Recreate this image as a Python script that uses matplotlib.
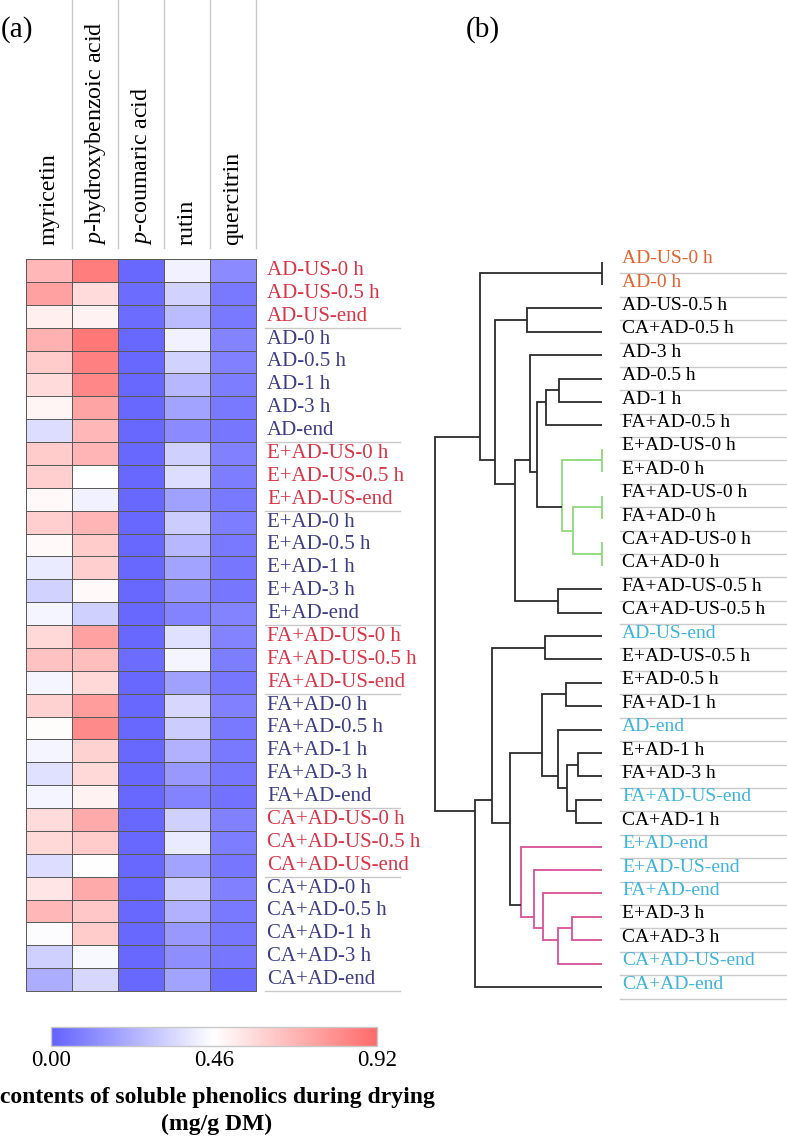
"""Heatmap of soluble phenolics (a) with a clustering dendrogram of the samples (b)."""

import matplotlib
matplotlib.use("Agg")
import matplotlib.pyplot as plt
import numpy as np
from matplotlib.colors import LinearSegmentedColormap

plt.rcParams["font.family"] = ["Liberation Serif", "DejaVu Serif"]
plt.rcParams["mathtext.fontset"] = "custom"
plt.rcParams["mathtext.rm"] = "Liberation Serif"
plt.rcParams["mathtext.it"] = "Liberation Serif:italic"

# ---- data -------------------------------------------------------------
COMPOUNDS = ["myricetin", "$p$-hydroxybenzoic acid", "$p$-coumaric acid", "rutin", "quercitrin"]

SAMPLES = [
    "AD-US-0 h", "AD-US-0.5 h", "AD-US-end",
    "AD-0 h", "AD-0.5 h", "AD-1 h", "AD-3 h", "AD-end",
    "E+AD-US-0 h", "E+AD-US-0.5 h", "E+AD-US-end",
    "E+AD-0 h", "E+AD-0.5 h", "E+AD-1 h", "E+AD-3 h", "E+AD-end",
    "FA+AD-US-0 h", "FA+AD-US-0.5 h", "FA+AD-US-end",
    "FA+AD-0 h", "FA+AD-0.5 h", "FA+AD-1 h", "FA+AD-3 h", "FA+AD-end",
    "CA+AD-US-0 h", "CA+AD-US-0.5 h", "CA+AD-US-end",
    "CA+AD-0 h", "CA+AD-0.5 h", "CA+AD-1 h", "CA+AD-3 h", "CA+AD-end",
]

# mg/g DM, one list per compound (rows follow SAMPLES)
MYRICETIN = [0.68, 0.75, 0.51, 0.70, 0.62, 0.57, 0.49, 0.36,
             0.62, 0.61, 0.48, 0.61, 0.48, 0.40, 0.33, 0.43,
             0.58, 0.65, 0.43, 0.60, 0.47, 0.43, 0.37, 0.43,
             0.57, 0.58, 0.36, 0.54, 0.68, 0.45, 0.32, 0.22]
HYDROXYBENZOIC = [0.86, 0.57, 0.50, 0.88, 0.85, 0.83, 0.74, 0.68,
                  0.69, 0.46, 0.42, 0.69, 0.62, 0.61, 0.48, 0.32,
                  0.75, 0.66, 0.58, 0.76, 0.82, 0.60, 0.58, 0.50,
                  0.72, 0.62, 0.46, 0.72, 0.63, 0.62, 0.44, 0.34]
COUMARIC = [0.02, 0.03, 0.03, 0.02, 0.02, 0.02, 0.02, 0.02,
            0.02, 0.02, 0.02, 0.02, 0.02, 0.02, 0.02, 0.02,
            0.02, 0.03, 0.02, 0.02, 0.02, 0.02, 0.02, 0.02,
            0.02, 0.02, 0.02, 0.02, 0.02, 0.02, 0.02, 0.02]
RUTIN = [0.42, 0.33, 0.26, 0.42, 0.33, 0.25, 0.19, 0.12,
         0.32, 0.36, 0.18, 0.31, 0.25, 0.19, 0.15, 0.10,
         0.37, 0.43, 0.18, 0.34, 0.31, 0.23, 0.16, 0.10,
         0.32, 0.40, 0.19, 0.31, 0.23, 0.16, 0.13, 0.19]
QUERCITRIN = [0.12, 0.07, 0.07, 0.10, 0.09, 0.08, 0.07, 0.06,
              0.09, 0.08, 0.07, 0.08, 0.07, 0.06, 0.06, 0.10,
              0.10, 0.08, 0.06, 0.09, 0.07, 0.07, 0.06, 0.05,
              0.09, 0.08, 0.06, 0.09, 0.07, 0.06, 0.06, 0.03]

VMIN, VMID, VMAX = 0.00, 0.46, 0.92

# dendrogram leaf order (top to bottom)
LEAVES = [
    "AD-US-0 h", "AD-0 h", "AD-US-0.5 h", "CA+AD-0.5 h", "AD-3 h", "AD-0.5 h",
    "AD-1 h", "FA+AD-0.5 h", "E+AD-US-0 h", "E+AD-0 h", "FA+AD-US-0 h",
    "FA+AD-0 h", "CA+AD-US-0 h", "CA+AD-0 h", "FA+AD-US-0.5 h", "CA+AD-US-0.5 h",
    "AD-US-end", "E+AD-US-0.5 h", "E+AD-0.5 h", "FA+AD-1 h", "AD-end",
    "E+AD-1 h", "FA+AD-3 h", "FA+AD-US-end", "CA+AD-1 h", "E+AD-end",
    "E+AD-US-end", "FA+AD-end", "E+AD-3 h", "CA+AD-3 h", "CA+AD-US-end", "CA+AD-end",
]

# merges: (child a, child b, distance, cluster); new node ids start at len(LEAVES)
MERGES = [
    (0, 1, 0.000, "k"), (2, 3, 0.450, "k"), (5, 6, 0.256, "k"), (34, 7, 0.334, "k"),
    (8, 9, 0.000, "g"), (10, 11, 0.000, "g"), (12, 13, 0.000, "g"), (37, 38, 0.170, "g"),
    (36, 39, 0.240, "g"), (35, 40, 0.390, "k"), (4, 41, 0.430, "k"), (14, 15, 0.264, "k"),
    (42, 43, 0.520, "k"), (33, 44, 0.640, "k"), (32, 45, 0.730, "k"), (16, 17, 0.340, "k"),
    (18, 19, 0.216, "k"), (21, 22, 0.140, "k"), (23, 24, 0.156, "k"), (49, 50, 0.210, "k"),
    (20, 51, 0.260, "k"), (48, 52, 0.360, "k"), (28, 29, 0.176, "p"), (54, 30, 0.260, "p"),
    (27, 55, 0.350, "p"), (26, 56, 0.404, "p"), (25, 57, 0.484, "p"), (53, 58, 0.550, "k"),
    (47, 59, 0.660, "k"), (60, 31, 0.760, "k"), (46, 61, 1.000, "k"),
]

HIGHLIGHT = ["AD-US-0 h", "AD-0 h"]

# ---- style ------------------------------------------------------------
W, H = 787, 1138
BLUE, RED = "#6262ff", "#ff6a6a"
US_RED, NAVY = "#dc3446", "#3d3d8a"
ORANGE, CYAN = "#e8602c", "#3db4de"
TREE_COLORS = {"k": "#2b2b2b", "g": "#8fd97c", "p": "#d9509a"}
RULE = "#c9c9c9"


def px_rect(left, top, right, bottom):
    return [left / W, 1 - bottom / H, (right - left) / W, (bottom - top) / H]


def main():
    fig = plt.figure(figsize=(W / 100, H / 100), dpi=100)

    values = np.column_stack([MYRICETIN, HYDROXYBENZOIC, COUMARIC, RUTIN, QUERCITRIN])
    cmap = LinearSegmentedColormap.from_list("bwr_soft", [BLUE, "white", RED])

    # (a) heatmap
    ax = fig.add_axes(px_rect(26, 259, 256, 991))
    mesh = ax.pcolormesh(values, cmap=cmap, vmin=VMIN, vmax=VMAX,
                         edgecolors="#5a5a5a", linewidth=0.6)
    n_rows, n_cols = values.shape
    ax.set_xlim(0, n_cols)
    ax.set_ylim(n_rows, 0)
    ax.set_xticks([])
    ax.set_yticks([])
    for s in ax.spines.values():
        s.set_edgecolor("#5a5a5a")
        s.set_linewidth(0.7)

    for i, name in enumerate(SAMPLES):
        ax.text(n_cols + 0.24, i + 0.5, name, fontsize=15, va="center", ha="left",
                color=US_RED if "-US-" in name else NAVY)

    groups = [name.rsplit("-", 1)[0] for name in SAMPLES]
    for i in range(1, n_rows + 1):
        if i == n_rows or groups[i] != groups[i - 1]:
            ax.plot([n_cols + 0.2, n_cols + 3.13], [i, i], color=RULE, lw=1.0, clip_on=False)

    for j, name in enumerate(COMPOUNDS):
        ax.text(j + 0.5, -0.62, name, rotation=90, fontsize=17.3, ha="center", va="bottom")
        ax.plot([j + 1, j + 1], [-11.32, -0.48], color=RULE, lw=1.0, clip_on=False)

    fig.text(1 / W, 1 - 30 / H, "(a)", fontsize=21, va="center", ha="left")
    fig.text(466 / W, 1 - 30 / H, "(b)", fontsize=21, va="center", ha="left")

    # colour bar
    cax = fig.add_axes(px_rect(51, 1027, 377, 1046))
    cb = fig.colorbar(mesh, cax=cax, orientation="horizontal", ticks=[VMIN, VMID, VMAX])
    cb.ax.set_xticklabels([f"{v:.2f}" for v in (VMIN, VMID, VMAX)])
    cb.ax.tick_params(length=0, labelsize=16.5, pad=3)
    cb.outline.set_edgecolor("#c8c8c8")
    cb.outline.set_linewidth(1.0)
    fig.text(217 / W, 1 - 1097 / H, "contents of soluble phenolics during drying",
             fontsize=17, weight="bold", ha="center", va="center")
    fig.text(217 / W, 1 - 1124 / H, "(mg/g DM)", fontsize=17, weight="bold",
             ha="center", va="center")

    # (b) dendrogram
    tx = fig.add_axes(px_rect(420, 249.8, 787, 998.7))
    scale = 166.7
    tx.set_xlim(1 + (435 - 420) / scale, -(787 - 601.7) / scale)
    tx.set_ylim(len(LEAVES) - 0.5, -0.5)
    tx.axis("off")

    n_leaf = len(LEAVES)
    members = {i: [i] for i in range(n_leaf)}
    height = {i: 0.0 for i in range(n_leaf)}
    for k, (a, b, d, c) in enumerate(MERGES):
        node = n_leaf + k
        members[node] = members[a] + members[b]
        height[node] = d
        ya, yb = np.mean(members[a]), np.mean(members[b])
        col = TREE_COLORS[c]
        tx.plot([height[a], d, d, height[b]], [ya, ya, yb, yb], color=col, lw=1.3,
                solid_joinstyle="miter", solid_capstyle="butt")

    label_x = -(622 - 601.7) / scale
    for i, name in enumerate(LEAVES):
        if name in HIGHLIGHT:
            col = ORANGE
        elif name.endswith("end"):
            col = CYAN
        else:
            col = "black"
        tx.text(label_x, i - 0.12, name, fontsize=14, color=col, va="center", ha="left")
        tx.plot([-(620 - 601.7) / scale, -(787 - 601.7) / scale], [i + 0.5, i + 0.5],
                color=RULE, lw=1.0, clip_on=False)

    fig.savefig("out.png", dpi=100)


if __name__ == "__main__":
    main()
